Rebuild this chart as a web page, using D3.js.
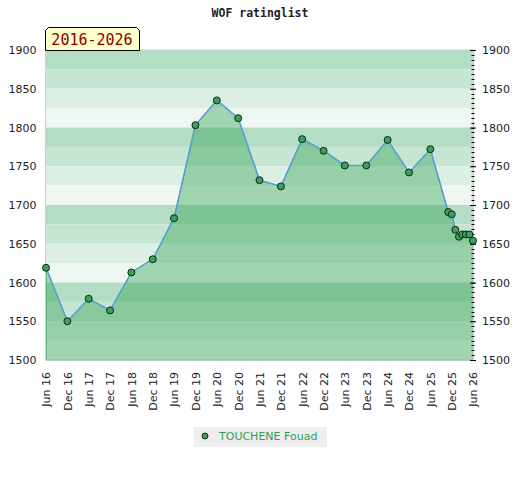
<!DOCTYPE html>
<html>
<head>
<meta charset="utf-8">
<script src="https://cdn.jsdelivr.net/npm/d3@7"></script>
<style>
  body { margin: 0; background: #fff; }
  #chart { width: 520px; height: 480px; }
  text { font-family: "DejaVu Sans", sans-serif; }
</style>
</head>
<body>
<div id="chart"></div>
<script>
// Rating list months and ratings
const months = [
    '2016-06', '2016-12', '2017-06', '2017-12', '2018-06', '2018-12',
    '2019-06', '2019-12', '2020-06', '2020-12', '2021-06', '2021-12',
    '2022-06', '2022-12', '2023-06', '2023-12', '2024-06', '2024-12',
    '2025-06', '2025-11', '2025-12', '2026-01', '2026-02', '2026-03',
    '2026-04', '2026-05', '2026-06'
];
const ratings = [
    1619, 1550, 1579, 1564, 1613, 1630,
    1683, 1803, 1835, 1812, 1732, 1724,
    1785, 1770, 1751, 1751, 1784, 1742,
    1772, 1691, 1688, 1668, 1659, 1662,
    1662, 1662, 1654
];
const tickMonths = [
    '2016-06', '2016-12', '2017-06', '2017-12', '2018-06', '2018-12',
    '2019-06', '2019-12', '2020-06', '2020-12', '2021-06', '2021-12',
    '2022-06', '2022-12', '2023-06', '2023-12', '2024-06', '2024-12',
    '2025-06', '2025-12', '2026-06'
];
const yTicks = [1500, 1550, 1600, 1650, 1700, 1750, 1800, 1850, 1900];
const playerName = 'TOUCHENE Fouad';
const chartTitle = 'WOF ratinglist';
const periodLabel = '2016-2026';

function createChart(containerId = 'chart') {
    const parseMonth = d3.timeParse('%Y-%m');
    const data = months.map((m, i) => ({ date: parseMonth(m), rating: ratings[i] }));
    const ticks = tickMonths.map(parseMonth);

    const left = 45.5, right = 473, top = 50, bottom = 360;

    const svg = d3.select(`#${containerId}`)
        .append('svg')
        .attr('width', 520)
        .attr('height', 480);

    const x = d3.scaleTime()
        .domain([parseMonth('2016-06'), parseMonth('2026-06')])
        .range([left + 0.5, right]);

    const y = d3.scaleLinear()
        .domain([1500, 1900])
        .range([bottom, top]);

    // Background bands, 25 points each, 4-colour cycle
    const bandColors = ['#b3ddc4', '#c7e5d3', '#dcefe3', '#eef7f1'];
    const bands = d3.range(1900, 1500, -25);
    svg.append('g')
        .selectAll('rect')
        .data(bands)
        .enter()
        .append('rect')
        .attr('x', left)
        .attr('y', d => y(d))
        .attr('width', right - left)
        .attr('height', d => y(d - 25) - y(d))
        .attr('fill', (d, i) => bandColors[i % 4]);

    // Area under the rating line
    const area = d3.area()
        .x(d => x(d.date))
        .y0(y(1500))
        .y1(d => y(d.rating));

    svg.append('path')
        .datum(data)
        .attr('d', area)
        .attr('fill', 'rgb(46,160,80)')
        .attr('fill-opacity', 0.4)
        .attr('stroke', '#3a9a5a')
        .attr('stroke-width', 1);

    // Plot frame
    svg.append('rect')
        .attr('x', left)
        .attr('y', top)
        .attr('width', right - left)
        .attr('height', bottom - top)
        .attr('fill', 'none')
        .attr('stroke', '#d0d0d0')
        .attr('stroke-width', 1);

    // Rating line
    const line = d3.line()
        .x(d => x(d.date))
        .y(d => y(d.rating));

    svg.append('path')
        .datum(data)
        .attr('d', line)
        .attr('fill', 'none')
        .attr('stroke', '#5a9fd8')
        .attr('stroke-width', 1.5);

    // Left axis (labels only)
    const yAxisLeft = svg.append('g')
        .attr('transform', `translate(${left},0)`)
        .call(d3.axisLeft(y).tickValues(yTicks).tickFormat(d3.format('d')).tickSize(0).tickPadding(9));
    yAxisLeft.select('.domain').remove();

    // Right axis with minor ticks
    const yAxisRight = svg.append('g')
        .attr('transform', `translate(${right},0)`)
        .call(d3.axisRight(y).tickValues(yTicks).tickFormat(d3.format('d')).tickSize(3).tickPadding(6));
    yAxisRight.select('.domain').attr('stroke', '#d0d0d0');
    yAxisRight.selectAll('.tick line').attr('x1', -3).attr('stroke', '#000');

    svg.append('g')
        .selectAll('line')
        .data(d3.range(1500, 1900, 50 / 8))
        .enter()
        .append('line')
        .attr('x1', right - 1.5)
        .attr('x2', right + 1.5)
        .attr('y1', d => Math.round(y(d)) + 0.5)
        .attr('y2', d => Math.round(y(d)) + 0.5)
        .attr('stroke', '#000');

    svg.selectAll('.tick text')
        .style('font-size', '11px')
        .style('fill', '#222')
        .style('font-family', '"DejaVu Sans", sans-serif');

    // Bottom axis, rotated labels
    const xAxis = svg.append('g')
        .attr('transform', `translate(0,${bottom})`)
        .call(d3.axisBottom(x).tickValues(ticks).tickSize(0).tickFormat(d3.timeFormat('%b %y')));
    xAxis.select('.domain').remove();
    xAxis.selectAll('text')
        .attr('transform', 'rotate(-90)')
        .attr('x', -12)
        .attr('y', 0)
        .attr('dy', '0.35em')
        .style('text-anchor', 'end')
        .style('font-size', '11px')
        .style('fill', '#222')
        .style('font-family', '"DejaVu Sans", sans-serif');

    // Markers
    svg.selectAll('.marker')
        .data(data)
        .enter()
        .append('circle')
        .attr('class', 'marker')
        .attr('cx', d => x(d.date))
        .attr('cy', d => y(d.rating))
        .attr('r', 3.5)
        .attr('fill', '#36a35a')
        .attr('stroke', '#111')
        .attr('stroke-width', 0.9);

    // Title
    svg.append('text')
        .attr('x', 260)
        .attr('y', 17)
        .attr('text-anchor', 'middle')
        .style('font-family', '"DejaVu Sans Mono", monospace')
        .style('font-weight', 'bold')
        .style('font-size', '11.5px')
        .style('fill', '#222')
        .text(chartTitle);

    // Period tab
    svg.append('path')
        .attr('d', 'M45.5,50.5 V30.5 L48.5,27.5 H136.5 L139.5,30.5 V50.5 Z')
        .attr('fill', '#ffffcc')
        .attr('stroke', '#000')
        .attr('stroke-width', 1);

    svg.append('text')
        .attr('x', 92)
        .attr('y', 45)
        .attr('text-anchor', 'middle')
        .style('font-family', '"DejaVu Sans Mono", monospace')
        .style('font-size', '15px')
        .style('fill', '#8b0000')
        .text(periodLabel);

    // Legend
    const legend = svg.append('g');
    legend.append('rect')
        .attr('x', 194)
        .attr('y', 427)
        .attr('width', 133)
        .attr('height', 20)
        .attr('fill', '#efefef');
    legend.append('circle')
        .attr('cx', 205)
        .attr('cy', 436)
        .attr('r', 3)
        .attr('fill', '#36a35a')
        .attr('stroke', '#111')
        .attr('stroke-width', 0.9);
    legend.append('text')
        .attr('x', 219)
        .attr('y', 440)
        .style('font-size', '11px')
        .style('fill', '#2ea052')
        .text(playerName);
}

createChart();
</script>
</body>
</html>
